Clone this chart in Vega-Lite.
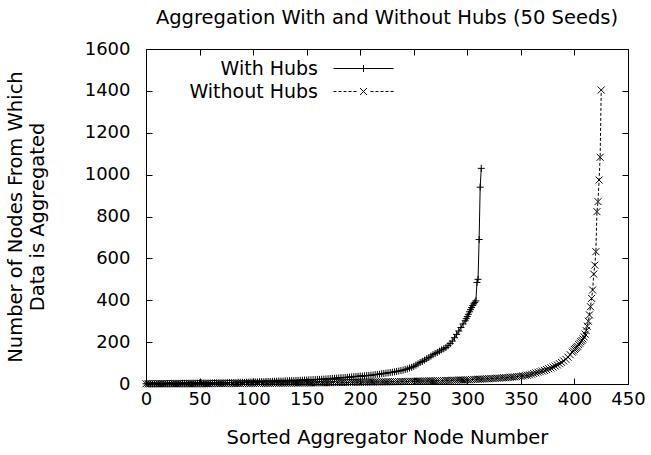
{
  "$schema": "https://vega.github.io/schema/vega-lite/v6.json",
  "autosize": "none",
  "width": 482,
  "height": 335,
  "padding": {"left": 146, "top": 49, "right": 23, "bottom": 71},
  "background": "white",
  "title": {
    "text": "Aggregation With and Without Hubs (50 Seeds)",
    "font": "DejaVu Sans",
    "fontSize": 19.5,
    "fontWeight": "normal",
    "color": "black",
    "anchor": "middle",
    "offset": 12
  },
  "config": {
    "view": {"stroke": "black", "strokeWidth": 1},
    "axis": {
      "grid": false,
      "domainColor": "black",
      "tickColor": "black",
      "labelColor": "black",
      "titleColor": "black",
      "labelFont": "DejaVu Sans",
      "titleFont": "DejaVu Sans",
      "labelFontSize": 18,
      "titleFontSize": 19.5,
      "titleFontWeight": "normal",
      "titleLineHeight": 22,
      "labelFlush": false
    }
  },
  "datasets": {
    "agg": [
      {"s":"With Hubs","x":0,"y":1},{"s":"With Hubs","x":2,"y":1},{"s":"With Hubs","x":4,"y":1},{"s":"With Hubs","x":6,"y":1},
      {"s":"With Hubs","x":8,"y":1},{"s":"With Hubs","x":10,"y":1},{"s":"With Hubs","x":12,"y":2},{"s":"With Hubs","x":14,"y":2},
      {"s":"With Hubs","x":16,"y":2},{"s":"With Hubs","x":18,"y":2},{"s":"With Hubs","x":20,"y":2},{"s":"With Hubs","x":22,"y":2},
      {"s":"With Hubs","x":24,"y":3},{"s":"With Hubs","x":26,"y":3},{"s":"With Hubs","x":28,"y":3},{"s":"With Hubs","x":30,"y":3},
      {"s":"With Hubs","x":32,"y":3},{"s":"With Hubs","x":34,"y":3},{"s":"With Hubs","x":36,"y":3},{"s":"With Hubs","x":38,"y":4},
      {"s":"With Hubs","x":40,"y":4},{"s":"With Hubs","x":42,"y":4},{"s":"With Hubs","x":44,"y":4},{"s":"With Hubs","x":46,"y":4},
      {"s":"With Hubs","x":48,"y":4},{"s":"With Hubs","x":50,"y":5},{"s":"With Hubs","x":52,"y":5},{"s":"With Hubs","x":54,"y":5},
      {"s":"With Hubs","x":56,"y":5},{"s":"With Hubs","x":58,"y":5},{"s":"With Hubs","x":60,"y":5},{"s":"With Hubs","x":62,"y":5},
      {"s":"With Hubs","x":64,"y":6},{"s":"With Hubs","x":66,"y":6},{"s":"With Hubs","x":68,"y":6},{"s":"With Hubs","x":70,"y":6},
      {"s":"With Hubs","x":72,"y":6},{"s":"With Hubs","x":74,"y":6},{"s":"With Hubs","x":76,"y":7},{"s":"With Hubs","x":78,"y":7},
      {"s":"With Hubs","x":80,"y":7},{"s":"With Hubs","x":82,"y":7},{"s":"With Hubs","x":84,"y":7},{"s":"With Hubs","x":86,"y":8},
      {"s":"With Hubs","x":88,"y":8},{"s":"With Hubs","x":90,"y":8},{"s":"With Hubs","x":92,"y":8},{"s":"With Hubs","x":94,"y":9},
      {"s":"With Hubs","x":96,"y":9},{"s":"With Hubs","x":98,"y":9},{"s":"With Hubs","x":100,"y":10},{"s":"With Hubs","x":102,"y":10},
      {"s":"With Hubs","x":104,"y":10},{"s":"With Hubs","x":106,"y":11},{"s":"With Hubs","x":108,"y":11},{"s":"With Hubs","x":110,"y":11},
      {"s":"With Hubs","x":112,"y":12},{"s":"With Hubs","x":114,"y":12},{"s":"With Hubs","x":116,"y":12},{"s":"With Hubs","x":118,"y":13},
      {"s":"With Hubs","x":120,"y":13},{"s":"With Hubs","x":122,"y":13},{"s":"With Hubs","x":124,"y":14},{"s":"With Hubs","x":126,"y":14},
      {"s":"With Hubs","x":128,"y":14},{"s":"With Hubs","x":130,"y":15},{"s":"With Hubs","x":132,"y":15},{"s":"With Hubs","x":134,"y":16},
      {"s":"With Hubs","x":136,"y":16},{"s":"With Hubs","x":138,"y":16},{"s":"With Hubs","x":140,"y":17},{"s":"With Hubs","x":142,"y":17},
      {"s":"With Hubs","x":144,"y":18},{"s":"With Hubs","x":146,"y":18},{"s":"With Hubs","x":148,"y":19},{"s":"With Hubs","x":150,"y":19},
      {"s":"With Hubs","x":152,"y":20},{"s":"With Hubs","x":154,"y":20},{"s":"With Hubs","x":156,"y":21},{"s":"With Hubs","x":158,"y":21},
      {"s":"With Hubs","x":160,"y":22},{"s":"With Hubs","x":162,"y":22},{"s":"With Hubs","x":164,"y":23},{"s":"With Hubs","x":166,"y":23},
      {"s":"With Hubs","x":168,"y":24},{"s":"With Hubs","x":170,"y":25},{"s":"With Hubs","x":172,"y":26},{"s":"With Hubs","x":174,"y":27},
      {"s":"With Hubs","x":176,"y":27},{"s":"With Hubs","x":178,"y":28},{"s":"With Hubs","x":180,"y":29},{"s":"With Hubs","x":182,"y":30},
      {"s":"With Hubs","x":184,"y":30},{"s":"With Hubs","x":186,"y":31},{"s":"With Hubs","x":188,"y":32},{"s":"With Hubs","x":190,"y":33},
      {"s":"With Hubs","x":192,"y":34},{"s":"With Hubs","x":194,"y":35},{"s":"With Hubs","x":196,"y":36},{"s":"With Hubs","x":198,"y":37},
      {"s":"With Hubs","x":200,"y":38},{"s":"With Hubs","x":202,"y":38},{"s":"With Hubs","x":204,"y":39},{"s":"With Hubs","x":206,"y":40},
      {"s":"With Hubs","x":208,"y":41},{"s":"With Hubs","x":210,"y":42},{"s":"With Hubs","x":212,"y":43},{"s":"With Hubs","x":214,"y":45},
      {"s":"With Hubs","x":216,"y":46},{"s":"With Hubs","x":218,"y":47},{"s":"With Hubs","x":220,"y":49},{"s":"With Hubs","x":222,"y":50},
      {"s":"With Hubs","x":224,"y":52},{"s":"With Hubs","x":226,"y":53},{"s":"With Hubs","x":228,"y":55},{"s":"With Hubs","x":230,"y":56},
      {"s":"With Hubs","x":232,"y":58},{"s":"With Hubs","x":234,"y":60},{"s":"With Hubs","x":236,"y":62},{"s":"With Hubs","x":238,"y":64},
      {"s":"With Hubs","x":240,"y":66},{"s":"With Hubs","x":242,"y":69},{"s":"With Hubs","x":244,"y":72},{"s":"With Hubs","x":246,"y":76},
      {"s":"With Hubs","x":248,"y":80},{"s":"With Hubs","x":250,"y":84},{"s":"With Hubs","x":252,"y":90},{"s":"With Hubs","x":254,"y":96},
      {"s":"With Hubs","x":256,"y":103},{"s":"With Hubs","x":258,"y":108},{"s":"With Hubs","x":260,"y":114},{"s":"With Hubs","x":262,"y":120},
      {"s":"With Hubs","x":264,"y":126},{"s":"With Hubs","x":266,"y":133},{"s":"With Hubs","x":268,"y":140},{"s":"With Hubs","x":270,"y":146},
      {"s":"With Hubs","x":272,"y":151},{"s":"With Hubs","x":274,"y":157},{"s":"With Hubs","x":276,"y":163},{"s":"With Hubs","x":278,"y":168},
      {"s":"With Hubs","x":280,"y":174},{"s":"With Hubs","x":282,"y":183},{"s":"With Hubs","x":284,"y":193},{"s":"With Hubs","x":286,"y":205},
      {"s":"With Hubs","x":288,"y":221},{"s":"With Hubs","x":290,"y":237},{"s":"With Hubs","x":292,"y":253},{"s":"With Hubs","x":294,"y":270},
      {"s":"With Hubs","x":296,"y":287},{"s":"With Hubs","x":298,"y":302},{"s":"With Hubs","x":299,"y":312},{"s":"With Hubs","x":300,"y":322},
      {"s":"With Hubs","x":301,"y":333},{"s":"With Hubs","x":302,"y":345},{"s":"With Hubs","x":303,"y":355},{"s":"With Hubs","x":304,"y":365},
      {"s":"With Hubs","x":305,"y":375},{"s":"With Hubs","x":306,"y":383},{"s":"With Hubs","x":307,"y":390},{"s":"With Hubs","x":308,"y":397},
      {"s":"With Hubs","x":309,"y":485},{"s":"With Hubs","x":310,"y":500},{"s":"With Hubs","x":311,"y":690},{"s":"With Hubs","x":312,"y":940},
      {"s":"With Hubs","x":313,"y":1030},
      {"s":"Without Hubs","x":0,"y":1},{"s":"Without Hubs","x":2,"y":1},{"s":"Without Hubs","x":4,"y":1},{"s":"Without Hubs","x":6,"y":1},
      {"s":"Without Hubs","x":8,"y":1},{"s":"Without Hubs","x":10,"y":1},{"s":"Without Hubs","x":12,"y":1},{"s":"Without Hubs","x":14,"y":1},
      {"s":"Without Hubs","x":16,"y":1},{"s":"Without Hubs","x":18,"y":1},{"s":"Without Hubs","x":20,"y":1},{"s":"Without Hubs","x":22,"y":1},
      {"s":"Without Hubs","x":24,"y":1},{"s":"Without Hubs","x":26,"y":1},{"s":"Without Hubs","x":28,"y":1},{"s":"Without Hubs","x":30,"y":1},
      {"s":"Without Hubs","x":32,"y":1},{"s":"Without Hubs","x":34,"y":1},{"s":"Without Hubs","x":36,"y":1},{"s":"Without Hubs","x":38,"y":1},
      {"s":"Without Hubs","x":40,"y":1},{"s":"Without Hubs","x":42,"y":1},{"s":"Without Hubs","x":44,"y":1},{"s":"Without Hubs","x":46,"y":1},
      {"s":"Without Hubs","x":48,"y":1},{"s":"Without Hubs","x":50,"y":1},{"s":"Without Hubs","x":52,"y":1},{"s":"Without Hubs","x":54,"y":1},
      {"s":"Without Hubs","x":56,"y":1},{"s":"Without Hubs","x":58,"y":1},{"s":"Without Hubs","x":60,"y":2},{"s":"Without Hubs","x":62,"y":2},
      {"s":"Without Hubs","x":64,"y":2},{"s":"Without Hubs","x":66,"y":2},{"s":"Without Hubs","x":68,"y":2},{"s":"Without Hubs","x":70,"y":2},
      {"s":"Without Hubs","x":72,"y":2},{"s":"Without Hubs","x":74,"y":2},{"s":"Without Hubs","x":76,"y":2},{"s":"Without Hubs","x":78,"y":2},
      {"s":"Without Hubs","x":80,"y":2},{"s":"Without Hubs","x":82,"y":2},{"s":"Without Hubs","x":84,"y":2},{"s":"Without Hubs","x":86,"y":2},
      {"s":"Without Hubs","x":88,"y":2},{"s":"Without Hubs","x":90,"y":3},{"s":"Without Hubs","x":92,"y":3},{"s":"Without Hubs","x":94,"y":3},
      {"s":"Without Hubs","x":96,"y":3},{"s":"Without Hubs","x":98,"y":3},{"s":"Without Hubs","x":100,"y":3},{"s":"Without Hubs","x":102,"y":3},
      {"s":"Without Hubs","x":104,"y":3},{"s":"Without Hubs","x":106,"y":3},{"s":"Without Hubs","x":108,"y":3},{"s":"Without Hubs","x":110,"y":3},
      {"s":"Without Hubs","x":112,"y":3},{"s":"Without Hubs","x":114,"y":3},{"s":"Without Hubs","x":116,"y":3},{"s":"Without Hubs","x":118,"y":4},
      {"s":"Without Hubs","x":120,"y":4},{"s":"Without Hubs","x":122,"y":4},{"s":"Without Hubs","x":124,"y":4},{"s":"Without Hubs","x":126,"y":4},
      {"s":"Without Hubs","x":128,"y":4},{"s":"Without Hubs","x":130,"y":4},{"s":"Without Hubs","x":132,"y":4},{"s":"Without Hubs","x":134,"y":4},
      {"s":"Without Hubs","x":136,"y":4},{"s":"Without Hubs","x":138,"y":5},{"s":"Without Hubs","x":140,"y":5},{"s":"Without Hubs","x":142,"y":5},
      {"s":"Without Hubs","x":144,"y":5},{"s":"Without Hubs","x":146,"y":5},{"s":"Without Hubs","x":148,"y":5},{"s":"Without Hubs","x":150,"y":5},
      {"s":"Without Hubs","x":152,"y":5},{"s":"Without Hubs","x":154,"y":5},{"s":"Without Hubs","x":156,"y":6},{"s":"Without Hubs","x":158,"y":6},
      {"s":"Without Hubs","x":160,"y":6},{"s":"Without Hubs","x":162,"y":6},{"s":"Without Hubs","x":164,"y":6},{"s":"Without Hubs","x":166,"y":6},
      {"s":"Without Hubs","x":168,"y":6},{"s":"Without Hubs","x":170,"y":6},{"s":"Without Hubs","x":172,"y":6},{"s":"Without Hubs","x":174,"y":7},
      {"s":"Without Hubs","x":176,"y":7},{"s":"Without Hubs","x":178,"y":7},{"s":"Without Hubs","x":180,"y":7},{"s":"Without Hubs","x":182,"y":7},
      {"s":"Without Hubs","x":184,"y":7},{"s":"Without Hubs","x":186,"y":7},{"s":"Without Hubs","x":188,"y":7},{"s":"Without Hubs","x":190,"y":8},
      {"s":"Without Hubs","x":192,"y":8},{"s":"Without Hubs","x":194,"y":8},{"s":"Without Hubs","x":196,"y":8},{"s":"Without Hubs","x":198,"y":8},
      {"s":"Without Hubs","x":200,"y":8},{"s":"Without Hubs","x":202,"y":9},{"s":"Without Hubs","x":204,"y":9},{"s":"Without Hubs","x":206,"y":9},
      {"s":"Without Hubs","x":208,"y":9},{"s":"Without Hubs","x":210,"y":9},{"s":"Without Hubs","x":212,"y":9},{"s":"Without Hubs","x":214,"y":10},
      {"s":"Without Hubs","x":216,"y":10},{"s":"Without Hubs","x":218,"y":10},{"s":"Without Hubs","x":220,"y":10},{"s":"Without Hubs","x":222,"y":10},
      {"s":"Without Hubs","x":224,"y":10},{"s":"Without Hubs","x":226,"y":11},{"s":"Without Hubs","x":228,"y":11},{"s":"Without Hubs","x":230,"y":11},
      {"s":"Without Hubs","x":232,"y":11},{"s":"Without Hubs","x":234,"y":11},{"s":"Without Hubs","x":236,"y":11},{"s":"Without Hubs","x":238,"y":12},
      {"s":"Without Hubs","x":240,"y":12},{"s":"Without Hubs","x":242,"y":12},{"s":"Without Hubs","x":244,"y":12},{"s":"Without Hubs","x":246,"y":13},
      {"s":"Without Hubs","x":248,"y":13},{"s":"Without Hubs","x":250,"y":13},{"s":"Without Hubs","x":252,"y":13},{"s":"Without Hubs","x":254,"y":14},
      {"s":"Without Hubs","x":256,"y":14},{"s":"Without Hubs","x":258,"y":14},{"s":"Without Hubs","x":260,"y":14},{"s":"Without Hubs","x":262,"y":14},
      {"s":"Without Hubs","x":264,"y":15},{"s":"Without Hubs","x":266,"y":15},{"s":"Without Hubs","x":268,"y":15},{"s":"Without Hubs","x":270,"y":15},
      {"s":"Without Hubs","x":272,"y":16},{"s":"Without Hubs","x":274,"y":16},{"s":"Without Hubs","x":276,"y":16},{"s":"Without Hubs","x":278,"y":16},
      {"s":"Without Hubs","x":280,"y":17},{"s":"Without Hubs","x":282,"y":17},{"s":"Without Hubs","x":284,"y":17},{"s":"Without Hubs","x":286,"y":18},
      {"s":"Without Hubs","x":288,"y":18},{"s":"Without Hubs","x":290,"y":18},{"s":"Without Hubs","x":292,"y":19},{"s":"Without Hubs","x":294,"y":19},
      {"s":"Without Hubs","x":296,"y":19},{"s":"Without Hubs","x":298,"y":20},{"s":"Without Hubs","x":300,"y":20},{"s":"Without Hubs","x":302,"y":20},
      {"s":"Without Hubs","x":304,"y":21},{"s":"Without Hubs","x":306,"y":22},{"s":"Without Hubs","x":308,"y":22},{"s":"Without Hubs","x":310,"y":23},
      {"s":"Without Hubs","x":312,"y":23},{"s":"Without Hubs","x":314,"y":24},{"s":"Without Hubs","x":316,"y":24},{"s":"Without Hubs","x":318,"y":25},
      {"s":"Without Hubs","x":320,"y":25},{"s":"Without Hubs","x":322,"y":26},{"s":"Without Hubs","x":324,"y":26},{"s":"Without Hubs","x":326,"y":27},
      {"s":"Without Hubs","x":328,"y":28},{"s":"Without Hubs","x":330,"y":28},{"s":"Without Hubs","x":332,"y":29},{"s":"Without Hubs","x":334,"y":30},
      {"s":"Without Hubs","x":336,"y":30},{"s":"Without Hubs","x":338,"y":31},{"s":"Without Hubs","x":340,"y":32},{"s":"Without Hubs","x":342,"y":33},
      {"s":"Without Hubs","x":344,"y":34},{"s":"Without Hubs","x":346,"y":35},{"s":"Without Hubs","x":348,"y":36},{"s":"Without Hubs","x":350,"y":37},
      {"s":"Without Hubs","x":352,"y":39},{"s":"Without Hubs","x":354,"y":41},{"s":"Without Hubs","x":356,"y":42},{"s":"Without Hubs","x":358,"y":44},
      {"s":"Without Hubs","x":360,"y":47},{"s":"Without Hubs","x":362,"y":50},{"s":"Without Hubs","x":364,"y":53},{"s":"Without Hubs","x":366,"y":56},
      {"s":"Without Hubs","x":368,"y":59},{"s":"Without Hubs","x":370,"y":62},{"s":"Without Hubs","x":372,"y":65},{"s":"Without Hubs","x":374,"y":69},
      {"s":"Without Hubs","x":376,"y":73},{"s":"Without Hubs","x":378,"y":77},{"s":"Without Hubs","x":380,"y":81},{"s":"Without Hubs","x":382,"y":86},
      {"s":"Without Hubs","x":384,"y":91},{"s":"Without Hubs","x":386,"y":97},{"s":"Without Hubs","x":388,"y":103},{"s":"Without Hubs","x":390,"y":110},
      {"s":"Without Hubs","x":392,"y":118},{"s":"Without Hubs","x":394,"y":128},{"s":"Without Hubs","x":396,"y":140},{"s":"Without Hubs","x":398,"y":152},
      {"s":"Without Hubs","x":399,"y":158},{"s":"Without Hubs","x":400,"y":165},{"s":"Without Hubs","x":401,"y":170},{"s":"Without Hubs","x":402,"y":175},
      {"s":"Without Hubs","x":403,"y":180},{"s":"Without Hubs","x":404,"y":188},{"s":"Without Hubs","x":405,"y":195},{"s":"Without Hubs","x":406,"y":202},
      {"s":"Without Hubs","x":407,"y":208},{"s":"Without Hubs","x":408,"y":215},{"s":"Without Hubs","x":409,"y":225},{"s":"Without Hubs","x":410,"y":238},
      {"s":"Without Hubs","x":411,"y":255},{"s":"Without Hubs","x":412,"y":276},{"s":"Without Hubs","x":413,"y":300},{"s":"Without Hubs","x":414,"y":330},
      {"s":"Without Hubs","x":415,"y":369},{"s":"Without Hubs","x":416,"y":409},{"s":"Without Hubs","x":417,"y":449},{"s":"Without Hubs","x":418,"y":525},
      {"s":"Without Hubs","x":419,"y":568},{"s":"Without Hubs","x":420,"y":632},{"s":"Without Hubs","x":421,"y":823},{"s":"Without Hubs","x":422,"y":871},
      {"s":"Without Hubs","x":423,"y":974},{"s":"Without Hubs","x":424,"y":1083},{"s":"Without Hubs","x":425,"y":1404}
    ]
  },
  "data": {"name": "agg"},
  "resolve": {
    "axis": {"x": "independent", "y": "independent"},
    "scale": {"shape": "independent"},
    "legend": {"shape": "independent"}
  },
  "layer": [
    {
      "transform": [{"filter": "datum.s === 'With Hubs'"}],
      "mark": {"type": "line", "stroke": "black", "strokeWidth": 1},
      "encoding": {
        "x": {
          "field": "x", "type": "quantitative",
          "scale": {"domain": [0, 450], "nice": false, "zero": false},
          "axis": {"title": "Sorted Aggregator Node Number", "format": "d", "values": [0,50,100,150,200,250,300,350,400,450], "tickSize": -6, "labelPadding": 12, "titlePadding": 20, "orient": "bottom"}
        },
        "y": {
          "field": "y", "type": "quantitative",
          "scale": {"domain": [0, 1600], "nice": false},
          "axis": {"title": ["Number of Nodes From Which", "Data is Aggregated"], "format": "d", "values": [0,200,400,600,800,1000,1200,1400,1600], "tickSize": -6, "labelPadding": 22, "titlePadding": 37, "orient": "left"}
        }
      }
    },
    {
      "transform": [{"filter": "datum.s === 'Without Hubs'"}],
      "mark": {"type": "line", "stroke": "black", "strokeWidth": 1, "strokeDash": [3, 2]},
      "encoding": {
        "x": {"field": "x", "type": "quantitative", "axis": null},
        "y": {"field": "y", "type": "quantitative", "axis": null}
      }
    },
    {
      "mark": {"type": "point", "filled": false, "stroke": "black", "strokeWidth": 1, "size": 49, "opacity": 1},
      "encoding": {
        "x": {
          "field": "x", "type": "quantitative",
          "axis": {"orient": "top", "title": null, "labels": false, "domain": false, "values": [0,50,100,150,200,250,300,350,400,450], "tickSize": -6}
        },
        "y": {
          "field": "y", "type": "quantitative",
          "axis": {"orient": "right", "title": null, "labels": false, "domain": false, "values": [0,200,400,600,800,1000,1200,1400,1600], "tickSize": -6}
        },
        "shape": {
          "field": "s", "type": "nominal",
          "scale": {"domain": ["With Hubs", "Without Hubs"], "range": ["M-1,0L1,0M0,-1L0,1", "M-1,-1L1,1M-1,1L1,-1"]},
          "legend": null
        }
      }
    },
    {
      "transform": [{"filter": "datum.x === 0"}],
      "mark": {"type": "point", "filled": false, "stroke": "black", "strokeWidth": 1, "size": 144, "opacity": 0},
      "encoding": {
        "x": {"field": "x", "type": "quantitative", "axis": null},
        "y": {"field": "y", "type": "quantitative", "axis": null},
        "shape": {
          "field": "s", "type": "nominal",
          "scale": {
            "domain": ["With Hubs", "Without Hubs"],
            "range": [
              "M-5,0L5,0M0,-0.58L0,0.58",
              "M-5,0L-4.5,0M-4.17,0L-3.67,0M-3.33,0L-2.83,0M-2.5,0L-2,0M-1.67,0L-1.17,0M-0.58,-0.58L0.58,0.58M-0.58,0.58L0.58,-0.58M1.17,0L1.67,0M2,0L2.5,0M2.83,0L3.33,0M3.67,0L4.17,0M4.5,0L5,0"
            ]
          },
          "legend": {
            "title": null,
            "orient": "none",
            "legendX": 208,
            "legendY": 10,
            "padding": 0,
            "rowPadding": 3,
            "symbolSize": 144,
            "symbolStrokeColor": "black",
            "symbolFillColor": "transparent",
            "symbolStrokeWidth": 1,
            "symbolOpacity": 1,
            "labelFont": "DejaVu Sans",
            "labelFontSize": 19,
            "labelColor": "black",
            "labelAlign": "right",
            "labelOffset": -55,
            "encode": {
              "symbols": {"update": {"opacity": {"value": 1}, "strokeOpacity": {"value": 1}}}
            }
          }
        }
      }
    }
  ]
}
